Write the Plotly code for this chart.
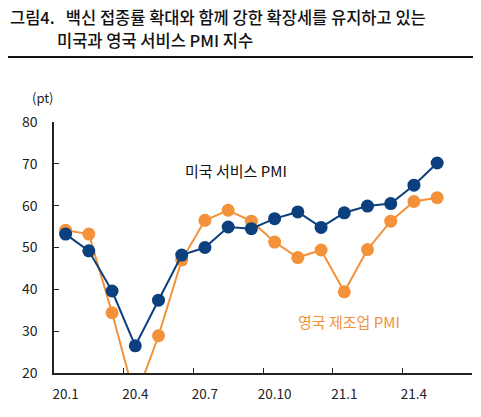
import plotly.graph_objects as go

months = ["20.1","20.2","20.3","20.4","20.5","20.6","20.7","20.8","20.9","20.10","20.11","20.12",
          "21.1","21.2","21.3","21.4","21.5"]
us_services = [53.2, 49.2, 39.6, 26.5, 37.4, 48.2, 50.0, 54.9, 54.5, 56.9, 58.5, 54.8,
               58.3, 59.9, 60.5, 64.9, 70.2]
uk_pmi = [54.1, 53.2, 34.4, 13.7, 28.9, 47.0, 56.5, 58.9, 56.3, 51.3, 47.6, 49.4,
          39.4, 49.5, 56.3, 61.0, 61.9]
tick_labels = ["20.1", "20.4", "20.7", "20.10", "21.1", "21.4"]
n_slots = 18  # axis spans 20.1 .. 21.6

FONT = "Noto Sans CJK KR"
BLUE = "#0c3f7d"
ORANGE = "#f39239"

# page has an 8px body margin; figure size compensates
W, H = 473, 409
L, R, T, B = 46, 9, 114, 44
PW, PH = W - L - R, H - T - B

def px(xp):  # figure-pixel x -> paper
    return (xp - L) / PW

def py(yp):  # figure-pixel y -> paper
    return 1 - (yp - T) / PH

xs = list(range(len(months)))
label_pos = [months.index(t) for t in tick_labels]
boundaries = [i - 0.5 for i in range(0, n_slots + 1, 3)]

fig = go.Figure()
fig.add_trace(go.Scatter(x=xs, y=uk_pmi, mode="lines+markers",
                         line=dict(color=ORANGE, width=2),
                         marker=dict(size=13, color=ORANGE), showlegend=False))
fig.add_trace(go.Scatter(x=xs, y=us_services, mode="lines+markers",
                         line=dict(color=BLUE, width=2),
                         marker=dict(size=13, color=BLUE), showlegend=False))
# helper trace for label axis
fig.add_trace(go.Scatter(x=[xs[0]], y=[us_services[0]], xaxis="x2", mode="markers",
                         marker=dict(opacity=0), showlegend=False, hoverinfo="skip"))

fig.update_layout(
    width=W, height=H,
    margin=dict(l=L, r=R, t=T, b=B),
    paper_bgcolor="white", plot_bgcolor="white",
    font=dict(family=FONT, size=13, color="#222"),
    xaxis=dict(range=[-0.5, n_slots - 0.5], tickmode="array", tickvals=boundaries,
               showticklabels=False, ticks="inside", ticklen=5, tickcolor="#222",
               showline=True, linecolor="#222", linewidth=1.5, showgrid=False, zeroline=False),
    xaxis2=dict(overlaying="x", side="bottom", range=[-0.5, n_slots - 0.5],
                tickmode="array", tickvals=label_pos, ticktext=tick_labels,
                ticks="", showline=False, showgrid=False, zeroline=False,
                ticklabelstandoff=11, tickfont=dict(size=13.5, color="#222")),
    yaxis=dict(range=[20, 80], tickmode="array", tickvals=[20, 30, 40, 50, 60, 70, 80],
               ticks="inside", ticklen=5, tickcolor="#222",
               showline=True, linecolor="#222", linewidth=1.5, showgrid=False, zeroline=False,
               ticklabelstandoff=12, tickfont=dict(size=14, color="#222")),
    annotations=[
        dict(text="그림4.   백신 접종률 확대와 함께 강한 확장세를 유지하고 있는", xref="paper", yref="paper",
             x=px(0), y=py(9), xanchor="left", yanchor="middle",
             showarrow=False, font=dict(size=16.5, color="#111", family=FONT, weight=500)),
        dict(text="미국과 영국 서비스 PMI 지수", xref="paper", yref="paper",
             x=px(47), y=py(32), xanchor="left", yanchor="middle",
             showarrow=False, font=dict(size=16.5, color="#111", family=FONT, weight=500)),
        dict(text="(pt)", xref="paper", yref="paper", x=px(48), y=py(89),
             xanchor="right", yanchor="middle", showarrow=False, font=dict(size=13, color="#222")),
        dict(text="미국 서비스 PMI", x=7.32, y=68.4,
             xanchor="center", yanchor="middle", showarrow=False,
             font=dict(size=15, color="#111")),
        dict(text="영국 제조업 PMI", x=12.22, y=32.2,
             xanchor="center", yanchor="middle", showarrow=False,
             font=dict(size=15, color=ORANGE)),
    ],
    shapes=[dict(type="line", xref="paper", yref="paper", x0=px(-8), x1=px(W),
                 y0=py(49), y1=py(49),
                 line=dict(color="#111", width=2))],
)

fig.write_html("out.html")
